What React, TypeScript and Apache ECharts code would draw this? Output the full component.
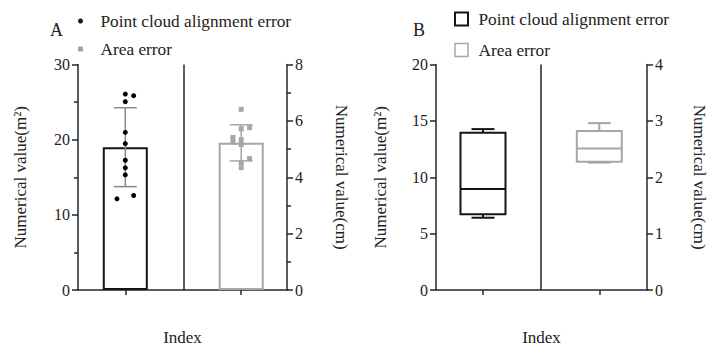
import React, { useEffect, useRef } from 'react';
import * as echarts from 'echarts';

// ---------- data ----------
const categories = ['Point cloud alignment error', 'Area error'];
const catX = [1, 2];
const dividerX = 1.5;

// Panel A: individual points (left axis m², right axis cm)
const alignErrPoints = [26.07, 25.85, 25.06, 20.98, 19.48, 17.26, 16.25, 15.32, 12.13, 12.57];
const alignErrJitter = [0, 1, 0, 0, 0, 0, 0, 0, -1, 1];
const areaErrPoints = [6.41, 5.72, 5.76, 5.41, 5.25, 5.33, 5.16, 4.66, 4.51, 4.34];
const areaErrJitter = [0, 0, 1, -1, -1, 0, 0, 1, 0, 0];
const barMeans = [19.0, 5.22];
const barSD = [5.25, 0.64];

// Panel B: box plots [min, Q1, median, Q3, max]
const boxAlign = [6.41, 6.71, 8.95, 13.95, 14.27];
const boxArea = [2.26, 2.275, 2.51, 2.82, 2.96];

// Axis ticks [min, max, interval]
const yTicksA = { left: [0, 30, 10], right: [0, 8, 2] };
const yTicksB = { left: [0, 20, 5], right: [0, 4, 1] };

// ---------- style ----------
const FONT = 'Liberation Serif';
const TXT = '#222';
const AX = '#262626';
const DARK = '#141414';
const GRAY = '#a6a6a6';
const JIT = 0.072;
const SQUARE = 'path://M0,0L10,0L10,10L0,10Z';

const axisLine = { show: true, onZero: false, lineStyle: { color: AX, width: 1.5 } };

function xAxis(gridIndex: number, min: number, max: number) {
  return {
    type: 'value',
    gridIndex,
    min,
    max,
    axisLine,
    axisTick: { show: true, length: 5, customValues: catX, lineStyle: { color: AX, width: 1.5 } },
    axisLabel: { show: false },
    splitLine: { show: false },
    name: 'Index',
    nameLocation: 'middle',
    nameGap: 39,
    nameTextStyle: { fontFamily: FONT, fontSize: 17, lineHeight: 16, color: TXT },
  };
}

function yAxis(
  gridIndex: number,
  position: 'left' | 'right',
  t: number[],
  name: string,
  nameGap: number,
  minor: boolean
) {
  return {
    type: 'value',
    gridIndex,
    position,
    min: t[0],
    max: t[1],
    interval: t[2],
    axisLine,
    axisTick: { show: true, length: 6, lineStyle: { color: AX, width: 1.5 } },
    minorTick: { show: minor, splitNumber: 2, length: 4, lineStyle: { color: AX, width: 1.5 } },
    axisLabel: { margin: 8, fontFamily: FONT, fontSize: 16, color: TXT },
    splitLine: { show: false },
    name,
    nameLocation: 'middle',
    nameGap,
    nameRotate: position === 'left' ? 90 : -90,
    nameTextStyle: { fontFamily: FONT, fontSize: 17, lineHeight: 16, color: TXT },
  };
}

function errorBarItem(color: string) {
  return (params: any, api: any) => {
    const x = api.value(0);
    const pHi = api.coord([x, api.value(2)]);
    const pLo = api.coord([x, api.value(1)]);
    const half = 11.5;
    const style = { stroke: color, lineWidth: 1.5, fill: 'none' };
    return {
      type: 'group',
      children: [
        { type: 'line', shape: { x1: pHi[0], y1: pHi[1], x2: pLo[0], y2: pLo[1] }, style },
        { type: 'line', shape: { x1: pHi[0] - half, y1: pHi[1], x2: pHi[0] + half, y2: pHi[1] }, style },
        { type: 'line', shape: { x1: pLo[0] - half, y1: pLo[1], x2: pLo[0] + half, y2: pLo[1] }, style },
      ],
    };
  };
}

function boxItem(color: string) {
  return (params: any, api: any) => {
    const x = api.value(0);
    const pMin = api.coord([x, api.value(1)]);
    const pQ1 = api.coord([x, api.value(2)]);
    const pMed = api.coord([x, api.value(3)]);
    const pQ3 = api.coord([x, api.value(4)]);
    const pMax = api.coord([x, api.value(5)]);
    const hw = 22.5;
    const cap = 11.5;
    const style = { stroke: color, lineWidth: 2, fill: 'none' };
    const cx = pQ1[0];
    return {
      type: 'group',
      children: [
        { type: 'line', shape: { x1: cx, y1: pQ3[1], x2: cx, y2: pMax[1] }, style },
        { type: 'line', shape: { x1: cx - cap, y1: pMax[1], x2: cx + cap, y2: pMax[1] }, style },
        { type: 'line', shape: { x1: cx, y1: pQ1[1], x2: cx, y2: pMin[1] }, style },
        { type: 'line', shape: { x1: cx - cap, y1: pMin[1], x2: cx + cap, y2: pMin[1] }, style },
        {
          type: 'rect',
          shape: { x: cx - hw, y: pQ3[1], width: hw * 2, height: pQ1[1] - pQ3[1] },
          style: { stroke: color, lineWidth: 2, fill: '#fff' },
        },
        { type: 'line', shape: { x1: cx - hw, y1: pMed[1], x2: cx + hw, y2: pMed[1] }, style },
      ],
    };
  };
}

const dividerLine = {
  silent: true,
  symbol: 'none',
  label: { show: false },
  lineStyle: { type: 'solid', color: AX, width: 1.5 },
  data: [{ xAxis: dividerX }],
};

const option: any = {
  animation: false,
  backgroundColor: '#fff',
  textStyle: { fontFamily: FONT },
  title: [
    { text: 'A', left: 50, top: 21, padding: 0, textStyle: { fontFamily: FONT, fontSize: 18, fontWeight: 'normal', color: TXT } },
    { text: 'B', left: 413, top: 21, padding: 0, textStyle: { fontFamily: FONT, fontSize: 18, fontWeight: 'normal', color: TXT } },
  ],
  legend: [
    {
      orient: 'vertical',
      left: 78,
      top: 11,
      padding: 0,
      itemGap: 8,
      itemWidth: 24,
      itemHeight: 5,
      symbolKeepAspect: true,
      selectedMode: false,
      textStyle: { fontFamily: FONT, fontSize: 17.3, color: TXT, lineHeight: 20, padding: [0, 0, 0, 3] },
      data: [
        { name: categories[0], icon: 'circle', itemStyle: { color: DARK, borderWidth: 0 } },
        { name: categories[1], icon: SQUARE, itemStyle: { color: GRAY, borderWidth: 0 } },
      ],
    },
    {
      orient: 'vertical',
      left: 454,
      top: 9,
      padding: 0,
      itemGap: 11,
      itemWidth: 22,
      itemHeight: 13,
      symbolKeepAspect: true,
      selectedMode: false,
      textStyle: { fontFamily: FONT, fontSize: 17.3, color: TXT, lineHeight: 20, padding: [0, 0, 0, 1] },
      data: [
        { name: categories[0], icon: SQUARE, itemStyle: { color: '#fff', borderColor: DARK, borderWidth: 2 } },
        { name: categories[1], icon: SQUARE, itemStyle: { color: '#fff', borderColor: GRAY, borderWidth: 1.5 } },
      ],
    },
  ],
  grid: [
    { left: 78, top: 64.5, width: 209, height: 225.5, containLabel: false, outerBoundsMode: 'none' },
    { left: 436, top: 64.5, width: 211, height: 225.5, containLabel: false, outerBoundsMode: 'none' },
  ],
  xAxis: [xAxis(0, 0.592, 2.395), xAxis(1, 0.596, 2.41)],
  yAxis: [
    yAxis(0, 'left', yTicksA.left, 'Numerical value(m²)', 50, true),
    yAxis(0, 'right', yTicksA.right, 'Numerical value(cm)', 46, true),
    yAxis(1, 'left', yTicksB.left, 'Numerical value(m²)', 48, false),
    yAxis(1, 'right', yTicksB.right, 'Numerical value(cm)', 44, false),
  ],
  series: [
    {
      type: 'bar',
      name: 'barA0',
      xAxisIndex: 0,
      yAxisIndex: 0,
      barWidth: 45,
      barGap: '-100%',
      z: 2,
      data: [[catX[0], barMeans[0]]],
      itemStyle: { color: 'rgba(255,255,255,0)', borderColor: DARK, borderWidth: 2 },
      markLine: dividerLine,
    },
    {
      type: 'bar',
      name: 'barA1',
      xAxisIndex: 0,
      yAxisIndex: 1,
      barWidth: 45,
      barGap: '-100%',
      z: 2,
      data: [[catX[1], barMeans[1]]],
      itemStyle: { color: 'rgba(255,255,255,0)', borderColor: GRAY, borderWidth: 2 },
    },
    {
      type: 'custom',
      name: 'errA0',
      xAxisIndex: 0,
      yAxisIndex: 0,
      z: 3,
      renderItem: errorBarItem('#8a8a8a'),
      encode: { x: 0, y: [1, 2] },
      data: [[catX[0], barMeans[0] - barSD[0], barMeans[0] + barSD[0]]],
    },
    {
      type: 'custom',
      name: 'errA1',
      xAxisIndex: 0,
      yAxisIndex: 1,
      z: 3,
      renderItem: errorBarItem(GRAY),
      encode: { x: 0, y: [1, 2] },
      data: [[catX[1], barMeans[1] - barSD[1], barMeans[1] + barSD[1]]],
    },
    {
      type: 'scatter',
      name: categories[0],
      xAxisIndex: 0,
      yAxisIndex: 0,
      symbol: 'circle',
      symbolSize: 5,
      z: 5,
      itemStyle: { color: '#000', opacity: 1 },
      data: alignErrPoints.map((v, i) => [catX[0] + alignErrJitter[i] * JIT, v]),
    },
    {
      type: 'scatter',
      name: categories[1],
      xAxisIndex: 0,
      yAxisIndex: 1,
      symbol: 'rect',
      symbolSize: 5,
      z: 5,
      itemStyle: { color: GRAY, opacity: 1 },
      data: areaErrPoints.map((v, i) => [catX[1] + areaErrJitter[i] * JIT, v]),
    },
    {
      type: 'custom',
      name: 'boxB0',
      xAxisIndex: 1,
      yAxisIndex: 2,
      z: 3,
      renderItem: boxItem(DARK),
      encode: { x: 0, y: [1, 2, 3, 4, 5] },
      data: [[catX[0], ...boxAlign]],
      markLine: dividerLine,
    },
    {
      type: 'custom',
      name: 'boxB1',
      xAxisIndex: 1,
      yAxisIndex: 3,
      z: 3,
      renderItem: boxItem(GRAY),
      encode: { x: 0, y: [1, 2, 3, 4, 5] },
      data: [[catX[1], ...boxArea]],
    },
  ],
};

export default function App() {
  const ref = useRef<HTMLDivElement>(null);
  useEffect(() => {
    if (!ref.current) return;
    const chart = echarts.init(ref.current, null, { renderer: 'svg' });
    chart.setOption(option);
    return () => chart.dispose();
  }, []);
  return (
    <div
      ref={ref}
      style={{ position: 'fixed', left: 0, top: 0, width: 708, height: 346, background: '#fff' }}
    />
  );
}
